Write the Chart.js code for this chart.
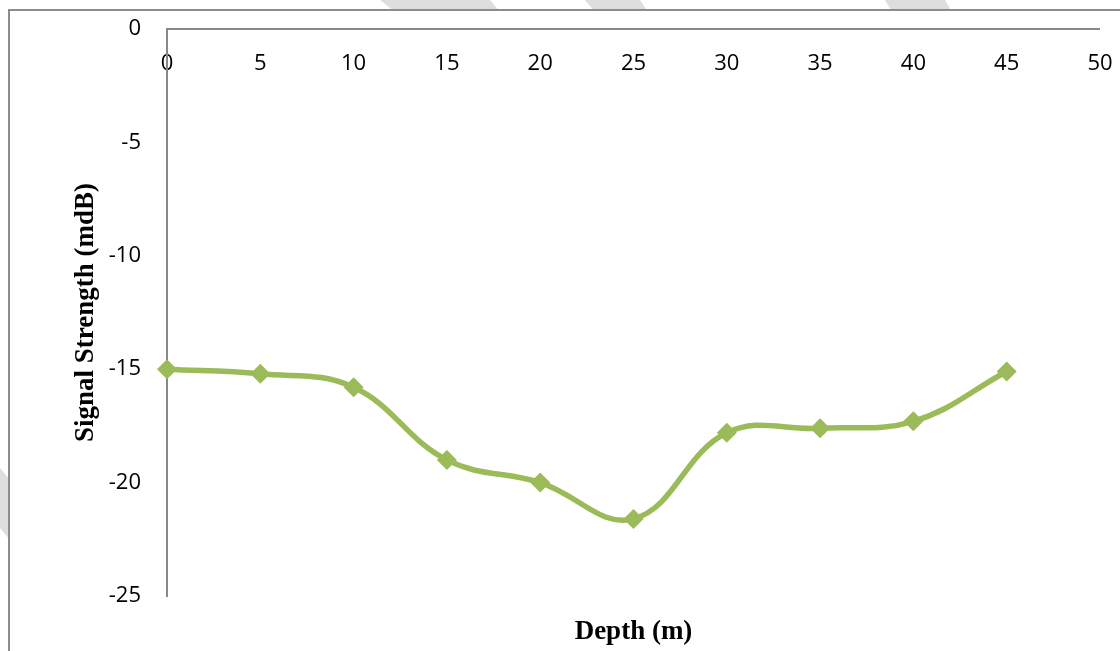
<!DOCTYPE html>
<html>
<head>
<meta charset="utf-8">
<script src="https://cdn.jsdelivr.net/npm/chart.js@4.4.0/dist/chart.umd.min.js"></script>
<style>
  html, body { margin: 0; padding: 0; background: #fff; }
  #page { position: relative; width: 1120px; height: 651px; overflow: hidden; }
  .band { position: absolute; left: 0; top: 0; width: 1120px; height: 651px; background: #dedede; }
  #frame {
    position: absolute; left: 8px; top: 9px; right: 0; bottom: 0;
    background: #fff; border-left: 2px solid #8c8c8c; border-top: 2px solid #8c8c8c;
  }
  #chart { position: absolute; left: 0; top: 0; }
</style>
</head>
<body>
<div id="page">
  <div class="band" style="clip-path: polygon(380px 0, 490px 0, 500px 12px, 395px 12px);"></div>
  <div class="band" style="clip-path: polygon(585px 0, 640px 0, 648px 12px, 595px 12px);"></div>
  <div class="band" style="clip-path: polygon(885px 0, 945px 0, 952px 12px, 892px 12px);"></div>
  <div class="band" style="clip-path: polygon(0 468px, 10px 480px, 10px 540px, 0 528px);"></div>
  <div id="frame"></div>
  <canvas id="chart" width="1120" height="651"></canvas>
</div>
<script>
const depths = [0, 5, 10, 15, 20, 25, 30, 35, 40, 45];
const signal = [-15, -15.2, -15.8, -19, -20, -21.6, -17.8, -17.6, -17.3, -15.1];
const xTicks = [0, 5, 10, 15, 20, 25, 30, 35, 40, 45, 50];
const yTicks = [0, -5, -10, -15, -20, -25];

const lineColor = '#9BBB59';
const axisColor = '#888888';
const tickFont = { family: '"Open Sans", sans-serif', size: 22 };
const titleFont = { family: '"Liberation Serif", "Times New Roman", serif', size: 27, weight: 'bold' };

const points = depths.map((d, i) => ({ x: d, y: signal[i] }));

new Chart(document.getElementById('chart'), {
  type: 'scatter',
  data: {
    datasets: [{
      data: points,
      showLine: true,
      borderColor: lineColor,
      borderWidth: 5.5,
      tension: 0.4,
      pointStyle: 'rectRot',
      pointRadius: 10,
      pointBackgroundColor: lineColor,
      pointBorderWidth: 0,
      clip: false
    }]
  },
  options: {
    responsive: false,
    devicePixelRatio: 1,
    animation: false,
    layout: { padding: { left: 0, top: 29, right: 20, bottom: 0 } },
    plugins: { legend: { display: false }, tooltip: { enabled: false } },
    scales: {
      // x axis sits on the y = 0 line at the top, labels mirrored below it
      x: {
        type: 'linear',
        min: 0,
        max: 50,
        position: 'top',
        afterBuildTicks: s => { s.ticks = xTicks.map(v => ({ value: v })); },
        afterFit: s => { s.height = 0; s.paddingLeft = 0; s.paddingRight = 0; },
        ticks: { font: tickFont, color: '#000', mirror: true, padding: 22, maxRotation: 0 },
        grid: { display: false, drawTicks: false },
        border: { display: false }
      },
      xTitle: {
        type: 'linear',
        position: 'bottom',
        min: 0,
        max: 50,
        afterFit: s => { s.height = 55; },
        ticks: { display: false },
        grid: { display: false, drawTicks: false },
        border: { display: false },
        title: { display: true, text: 'Depth (m)', font: titleFont, color: '#000', padding: { top: 0, bottom: 3 } }
      },
      y: {
        type: 'linear',
        min: -25,
        max: 0,
        position: 'left',
        afterBuildTicks: s => { s.ticks = yTicks.map(v => ({ value: v })); },
        afterFit: s => { s.width = 167; s.paddingTop = 0; s.paddingBottom = 0; },
        ticks: { font: tickFont, color: '#000', padding: 26 },
        // only the zero line is drawn: it is the horizontal axis
        grid: {
          drawTicks: false,
          lineWidth: 2,
          color: ctx => (ctx.tick && ctx.tick.value === 0 ? axisColor : 'rgba(0,0,0,0)')
        },
        border: { color: axisColor, width: 2 },
        title: { display: true, text: 'Signal Strength (mdB)', font: titleFont, color: '#000', padding: { top: 70, bottom: 0 } }
      }
    }
  }
});
</script>
</body>
</html>
